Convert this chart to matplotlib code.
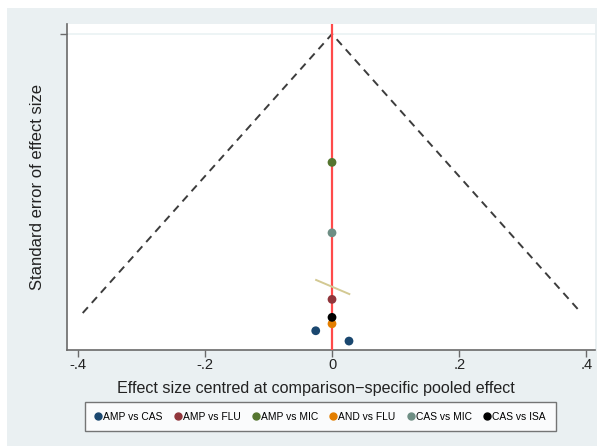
import matplotlib
matplotlib.use("Agg")
import matplotlib.pyplot as plt
from matplotlib.patches import Rectangle
from matplotlib.lines import Line2D

plt.rcParams['font.family'] = ['Liberation Sans', 'DejaVu Sans']

# Data
comparisons = ["AMP vs CAS", "AMP vs FLU", "AMP vs MIC", "AND vs FLU", "CAS vs MIC", "CAS vs ISA"]
colors = ["#1a476f", "#90353b", "#55752f", "#e37e00", "#6e8e84", "#000000"]
effects = [[-0.0256, 0.0267], [0.0], [0.0], [0.0], [0.0], [0.0]]
std_errors = [[0.2127, 0.2201], [0.1902], [0.0920], [0.2077], [0.1425], [0.2031]]
se_max = 0.2
z = 1.96
fit_x = [-0.025, 0.0272]
fit_se = [0.1763, 0.1864]
xticks = [-0.4, -0.2, 0.0, 0.2, 0.4]
xticklabels = ["-.4", "-.2", "0", ".2", ".4"]

W, H = 606, 446
fig = plt.figure(figsize=(W / 100, H / 100), dpi=100, facecolor="white")
fig.patches.append(Rectangle((7 / W, 0), 590 / W, 438 / H, transform=fig.transFigure,
                             facecolor="#eaf0f2", edgecolor="none", zorder=-10))

ax = fig.add_axes([67 / W, 1 - 350 / H, (595 - 67) / W, (350 - 24) / H])
ax.set_facecolor("white")

# pseudo confidence limits
ax.plot([-z * se_max, 0, z * se_max], [se_max, 0, se_max], ls=(0, (4, 3)),
        color="#3c3c3c", lw=1.4, zorder=2)
ax.axvline(0, color="#ff4a4a", lw=1.6, zorder=3)
ax.axhline(0, color="#eaf2f3", lw=1.2, zorder=1)
ax.plot(fit_x, fit_se, color="#d3c993", lw=1.4, zorder=4)

for name, c, xs, ys in zip(comparisons, colors, effects, std_errors):
    ax.scatter(xs, ys, s=40, color=c, edgecolors="none", zorder=5, label=name)

ax.set_xlim(-0.4167, 0.4135)
ax.set_ylim(0.2265, -0.0072)
ax.set_xticks(xticks)
ax.set_xticklabels(xticklabels, fontsize=10.5, color="#222222")
ax.set_yticks([0])
ax.set_yticklabels([""])
for s in ["top", "right"]:
    ax.spines[s].set_visible(False)
for s in ["left", "bottom"]:
    ax.spines[s].set_color("#6a6a6a")
    ax.spines[s].set_linewidth(1.2)
ax.tick_params(axis="both", colors="#6a6a6a", length=5, width=1.0, labelcolor="#222222")
ax.tick_params(axis="x", pad=1)

ax.set_xlabel("Effect size centred at comparison\u2212specific pooled effect",
              fontsize=11.6, color="#222222")
ax.xaxis.set_label_coords((315.5 - 67) / 528, (350 - 381) / 326)
ax.set_ylabel("Standard error of effect size", fontsize=12, color="#222222")
ax.yaxis.set_label_coords((45 - 67) / 528, 0.5)

handles = [Line2D([], [], marker="o", ls="none", color=c, markersize=5) for c in colors]
leg = fig.legend(handles, comparisons, loc="center", bbox_to_anchor=(320.5 / W, 1 - 416.5 / H),
                 ncol=6, fontsize=7.4, frameon=True, fancybox=False, handlelength=0.6,
                 handletextpad=0.2, columnspacing=1.17, borderpad=0.95)
leg.get_frame().set_edgecolor("#555555")
leg.get_frame().set_linewidth(1.0)

fig.savefig("out.png", dpi=100, facecolor="white")
